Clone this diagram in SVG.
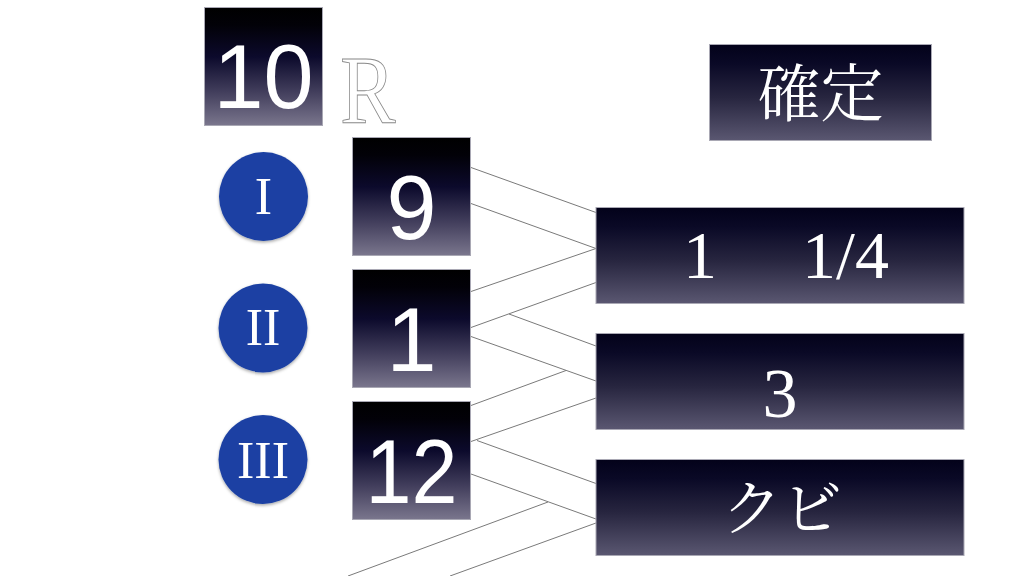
<svg xmlns="http://www.w3.org/2000/svg" width="1024" height="576" viewBox="0 0 1024 576">
<defs>
<linearGradient id="gSq" x1="0" y1="0" x2="0" y2="1">
<stop offset="0" stop-color="#000000"/>
<stop offset="0.15" stop-color="#020108"/>
<stop offset="0.42" stop-color="#0c0a2c"/>
<stop offset="0.72" stop-color="#433f5d"/>
<stop offset="1" stop-color="#7a768d"/>
</linearGradient>
<linearGradient id="gWide" x1="0" y1="0" x2="0" y2="1">
<stop offset="0" stop-color="#03021a"/>
<stop offset="0.2" stop-color="#0a0926"/>
<stop offset="0.55" stop-color="#27253f"/>
<stop offset="1" stop-color="#5a5771"/>
</linearGradient>
<filter id="sh" x="-20%" y="-20%" width="140%" height="140%">
<feDropShadow dx="0" dy="1.5" stdDeviation="1.5" flood-color="#000" flood-opacity="0.35"/>
</filter>
</defs>
<style>
.sq{fill:url(#gSq);stroke:#a9a8b4;stroke-width:1}
.wd{fill:url(#gWide);stroke:#a9a8b4;stroke-width:1}
.num{font-family:"Liberation Sans","Helvetica Neue",Arial,sans-serif;font-size:90px;fill:#ffffff;text-anchor:middle}
.ser{font-family:"Liberation Serif","Times New Roman",serif;fill:#ffffff}
.cjk{font-family:"Noto Serif CJK JP","Noto Sans CJK JP",serif;fill:#ffffff;text-anchor:middle}
.circ{fill:#1b41a3;filter:url(#sh)}
.rom{font-family:"Liberation Serif","Times New Roman",serif;font-size:52px;fill:#ffffff;text-anchor:middle}
.ln{stroke:#7a7a7a;stroke-width:1;fill:none}
</style>
<rect width="1024" height="576" fill="#ffffff"/>

<g id="connectors">
<line class="ln" x1="471" y1="167.5" x2="596" y2="212.5"/>
<line class="ln" x1="471" y1="203.5" x2="596" y2="248.5"/>
<line class="ln" x1="471" y1="291.5" x2="596" y2="248.5"/>
<line class="ln" x1="471" y1="327.5" x2="596" y2="282.5"/>
<line class="ln" x1="509" y1="314" x2="596" y2="346"/>
<line class="ln" x1="471" y1="336.5" x2="596" y2="381"/>
<line class="ln" x1="471" y1="405.5" x2="566" y2="370.5"/>
<line class="ln" x1="471" y1="441.5" x2="596" y2="398"/>
<line class="ln" x1="477" y1="440.5" x2="596" y2="483.5"/>
<line class="ln" x1="471" y1="474" x2="596" y2="519"/>
<line class="ln" x1="348" y1="576" x2="548" y2="502"/>
<line class="ln" x1="450" y1="576" x2="596" y2="523"/>
</g>

<g id="race">
<rect class="sq" x="204.5" y="7.5" width="118" height="118"/>
<text class="num" x="263.5" y="108">10</text>
</g>
<g id="race-r">
<text x="340" y="123" font-family="Liberation Serif,'Times New Roman',serif" font-size="98" fill="#ffffff" stroke="#8a8a8a" stroke-width="0.9" transform="translate(340 0) scale(0.85 1) translate(-340 0)">R</text>
</g>

<g id="place-1">
<circle class="circ" cx="263.5" cy="196.5" r="44.5"/>
<text class="rom" x="263.5" y="213.5">I</text>
</g>
<g id="place-2">
<circle class="circ" cx="263" cy="328" r="44.5"/>
<text class="rom" x="263" y="345">II</text>
</g>
<g id="place-3">
<circle class="circ" cx="263" cy="459.5" r="44.5"/>
<text class="rom" x="263" y="477.5">III</text>
</g>

<g id="horse-9">
<rect class="sq" x="352.5" y="137.5" width="118" height="118"/>
<text class="num" x="411.5" y="239">9</text>
</g>
<g id="horse-1">
<rect class="sq" x="352.5" y="269.5" width="118" height="118"/>
<text class="num" x="411.5" y="371">1</text>
</g>
<g id="horse-12">
<rect class="sq" x="352.5" y="401.5" width="118" height="118"/>
<text class="num" x="411.5" y="503" textLength="92" lengthAdjust="spacingAndGlyphs">12</text>
</g>

<g id="confirmed">
<rect class="wd" x="709.5" y="44.5" width="222" height="96"/>
<text class="cjk" x="820.5" y="116" font-size="63">確定</text>
</g>
<g id="margin-1">
<rect class="wd" x="596" y="207.5" width="368" height="96"/>
<text class="ser" x="700" y="278" font-size="68" text-anchor="middle">1</text>
<text class="ser" x="802" y="278" font-size="68">1/4</text>
</g>
<g id="margin-2">
<rect class="wd" x="596" y="333.5" width="368" height="96"/>
<text class="ser" x="780" y="417" font-size="70" text-anchor="middle">3</text>
</g>
<g id="margin-3">
<rect class="wd" x="596" y="459.5" width="368" height="96"/>
<text class="cjk" x="782" y="530" font-size="60">クビ</text>
</g>
</svg>
